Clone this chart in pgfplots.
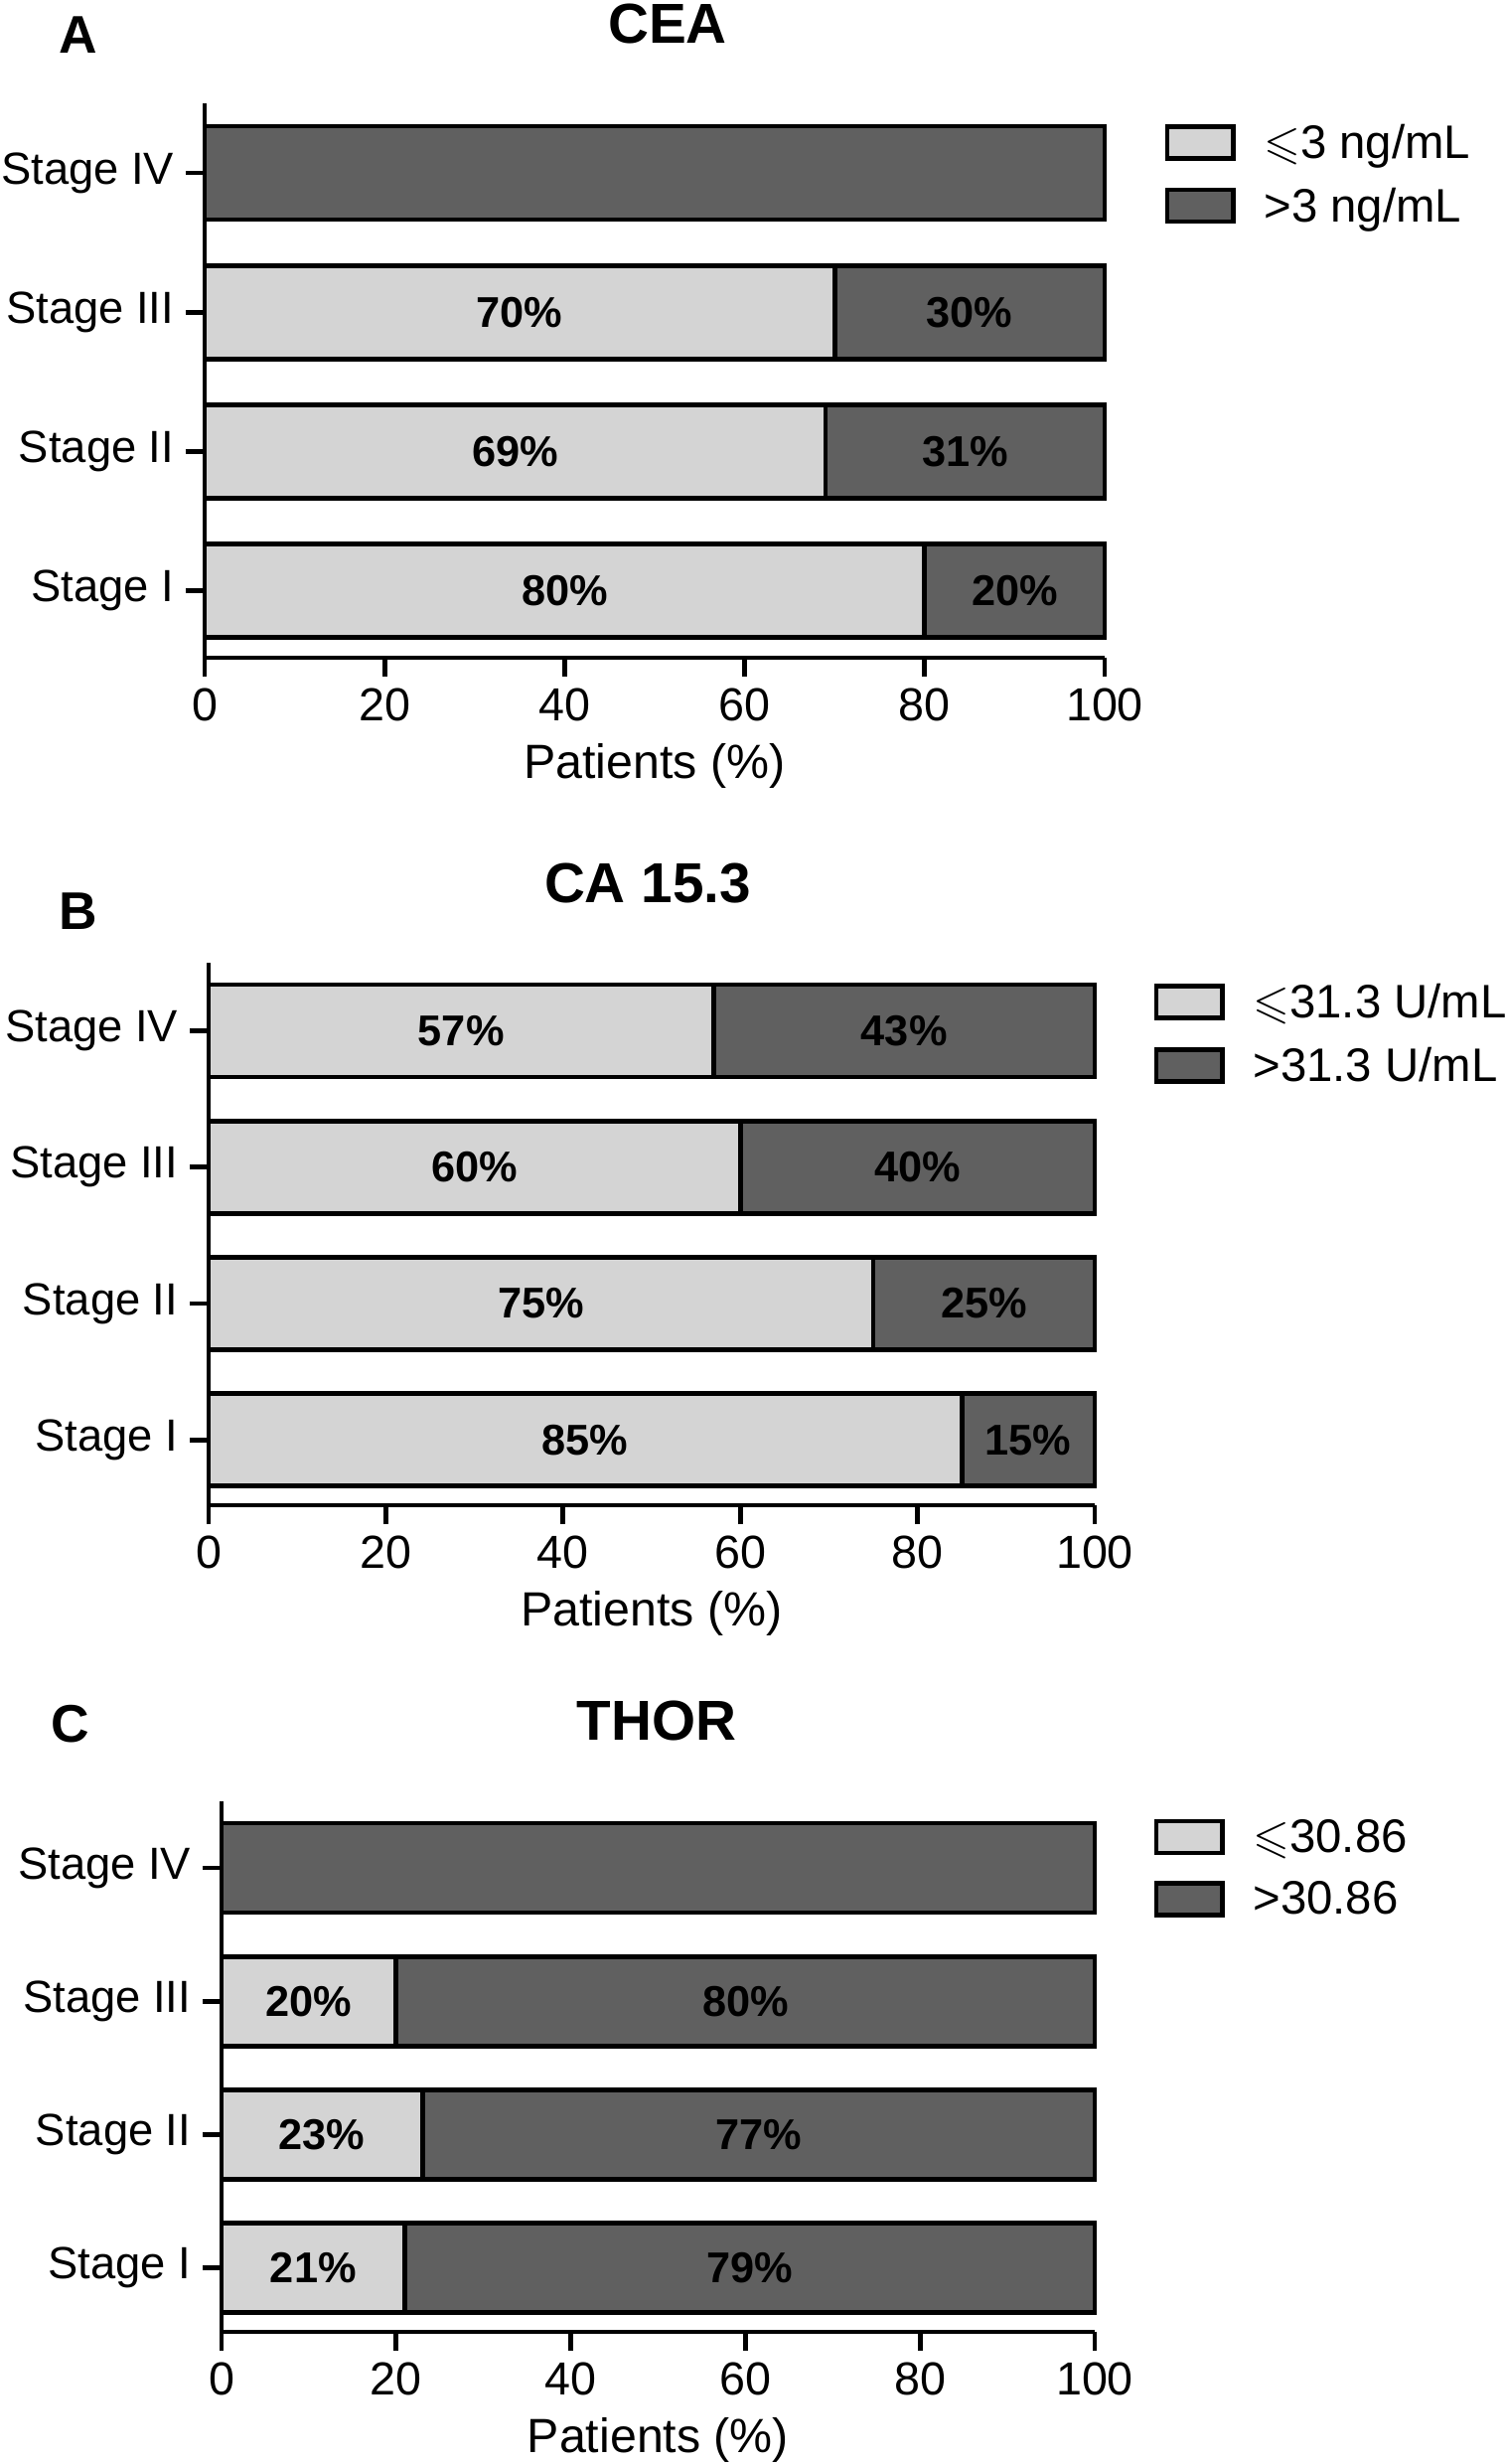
\documentclass[border=0pt]{standalone}
\usepackage{fontspec}
\setmainfont{Liberation Sans}
\usepackage{amssymb}
\usepackage{pgfplots}
\usepackage{pgfplotstable}
\pgfplotsset{compat=1.18}
\definecolor{lightbar}{RGB}{212,212,212}
\definecolor{darkbar}{RGB}{96,96,96}

% CEA
\pgfplotstableread{
y v lab
0 80 {80\%}
1 69 {69\%}
2 70 {70\%}
3 0 {}
}\ceaLow
\pgfplotstableread{
y v lab
0 20 {20\%}
1 31 {31\%}
2 30 {30\%}
3 100 {}
}\ceaHigh
% CA 15.3
\pgfplotstableread{
y v lab
0 85 {85\%}
1 75 {75\%}
2 60 {60\%}
3 57 {57\%}
}\caLow
\pgfplotstableread{
y v lab
0 15 {15\%}
1 25 {25\%}
2 40 {40\%}
3 43 {43\%}
}\caHigh
% THOR
\pgfplotstableread{
y v lab
0 21 {21\%}
1 23 {23\%}
2 20 {20\%}
3 0 {}
}\thLow
\pgfplotstableread{
y v lab
0 79 {79\%}
1 77 {77\%}
2 80 {80\%}
3 100 {}
}\thHigh

\pgfplotsset{
  panel/.style={% #1 bar width
    scale only axis, clip=false,
    anchor=south west,
    xbar stacked,
    bar width=#1,
    xmin=0, xmax=100, ymin=-0.48, ymax=3.5,
    axis x line*=bottom, axis y line*=left,
    axis line style={line width=1.4pt, -},
    xtick={0,20,...,100},
    ytick={0,1,2,3},
    yticklabels={Stage I, Stage II, Stage III, Stage IV},
    tick align=outside,
    major tick length=5.7pt,
    tick style={line width=1.4pt, black},
    ticklabel style={font=\fontsize{13.6}{16}\selectfont},
    xticklabel style={font=\fontsize{14}{16}\selectfont},
    /pgf/number format/assume math mode=true,
    xlabel={Patients (\%)},
    xlabel style={font=\fontsize{14.5}{17}\selectfont},
    legend cell align=left,
    legend style={draw=none, fill=none, inner sep=0pt, outer sep=0pt,
      anchor=north west, font=\fontsize{14.2}{17}\selectfont, row sep=3.3pt,
      /tikz/every odd column/.append style={column sep=6.5pt}},
    legend image code/.code={\draw[##1, line width=1.4pt] (0pt,-4.4pt) rectangle (20pt,5.2pt);},
    nodes near coords={\pgfplotspointmeta},
    point meta=explicit symbolic,
    every node near coord/.append style={anchor=center, inner sep=0pt,
      font=\bfseries\fontsize{13}{15}\selectfont, black},
  },
  lowbar/.style={fill=lightbar, draw=black, line width=1.4pt},
  highbar/.style={fill=darkbar, draw=black, line width=1.4pt},
}

\begin{document}
\begin{tikzpicture}
\useasboundingbox (0,0) rectangle ({1515*0.3pt},{-2480*0.3pt});

% ---------- A: CEA ----------
\node[font=\bfseries\fontsize{16}{19}\selectfont] at ({79*0.3pt},{-35*0.3pt}) {A};
\node[font=\bfseries\fontsize{17}{20}\selectfont] at ({672*0.3pt},{-24*0.3pt}) {CEA};
\begin{axis}[panel={28.2pt},
  at={({206*0.3pt},{-662*0.3pt})},
  width={906*0.3pt}, height={558*0.3pt},
  legend style={at={(axis description cs:1.067,0.974)}}]
\addplot[lowbar] table[x=v, y=y, meta=lab] {\ceaLow};
\addlegendentry{\ensuremath{\leqslant}3 ng/mL}
\addplot[highbar] table[x=v, y=y, meta=lab] {\ceaHigh};
\addlegendentry{>3 ng/mL}
\end{axis}

% ---------- B: CA 15.3 ----------
\node[font=\bfseries\fontsize{16}{19}\selectfont] at ({79*0.3pt},{-917*0.3pt}) {B};
\node[font=\bfseries\fontsize{17}{20}\selectfont] at ({652*0.3pt},{-889*0.3pt}) {CA 15.3};
\begin{axis}[panel={27.9pt},
  at={({210*0.3pt},{-1515*0.3pt})},
  width={892*0.3pt}, height={546*0.3pt},
  legend style={at={(axis description cs:1.067,0.973)}}]
\addplot[lowbar] table[x=v, y=y, meta=lab] {\caLow};
\addlegendentry{\ensuremath{\leqslant}31.3 U/mL}
\addplot[highbar] table[x=v, y=y, meta=lab] {\caHigh};
\addlegendentry{>31.3 U/mL}
\end{axis}

% ---------- C: THOR ----------
\node[font=\bfseries\fontsize{16}{19}\selectfont] at ({71*0.3pt},{-1735*0.3pt}) {C};
\node[font=\bfseries\fontsize{17}{20}\selectfont] at ({661*0.3pt},{-1732*0.3pt}) {THOR};
\begin{axis}[panel={27pt},
  at={({223*0.3pt},{-2347*0.3pt})},
  width={879*0.3pt}, height={534*0.3pt},
  legend style={at={(axis description cs:1.068,0.978)}}]
\addplot[lowbar] table[x=v, y=y, meta=lab] {\thLow};
\addlegendentry{\ensuremath{\leqslant}30.86}
\addplot[highbar] table[x=v, y=y, meta=lab] {\thHigh};
\addlegendentry{>30.86}
\end{axis}
\end{tikzpicture}
\end{document}
